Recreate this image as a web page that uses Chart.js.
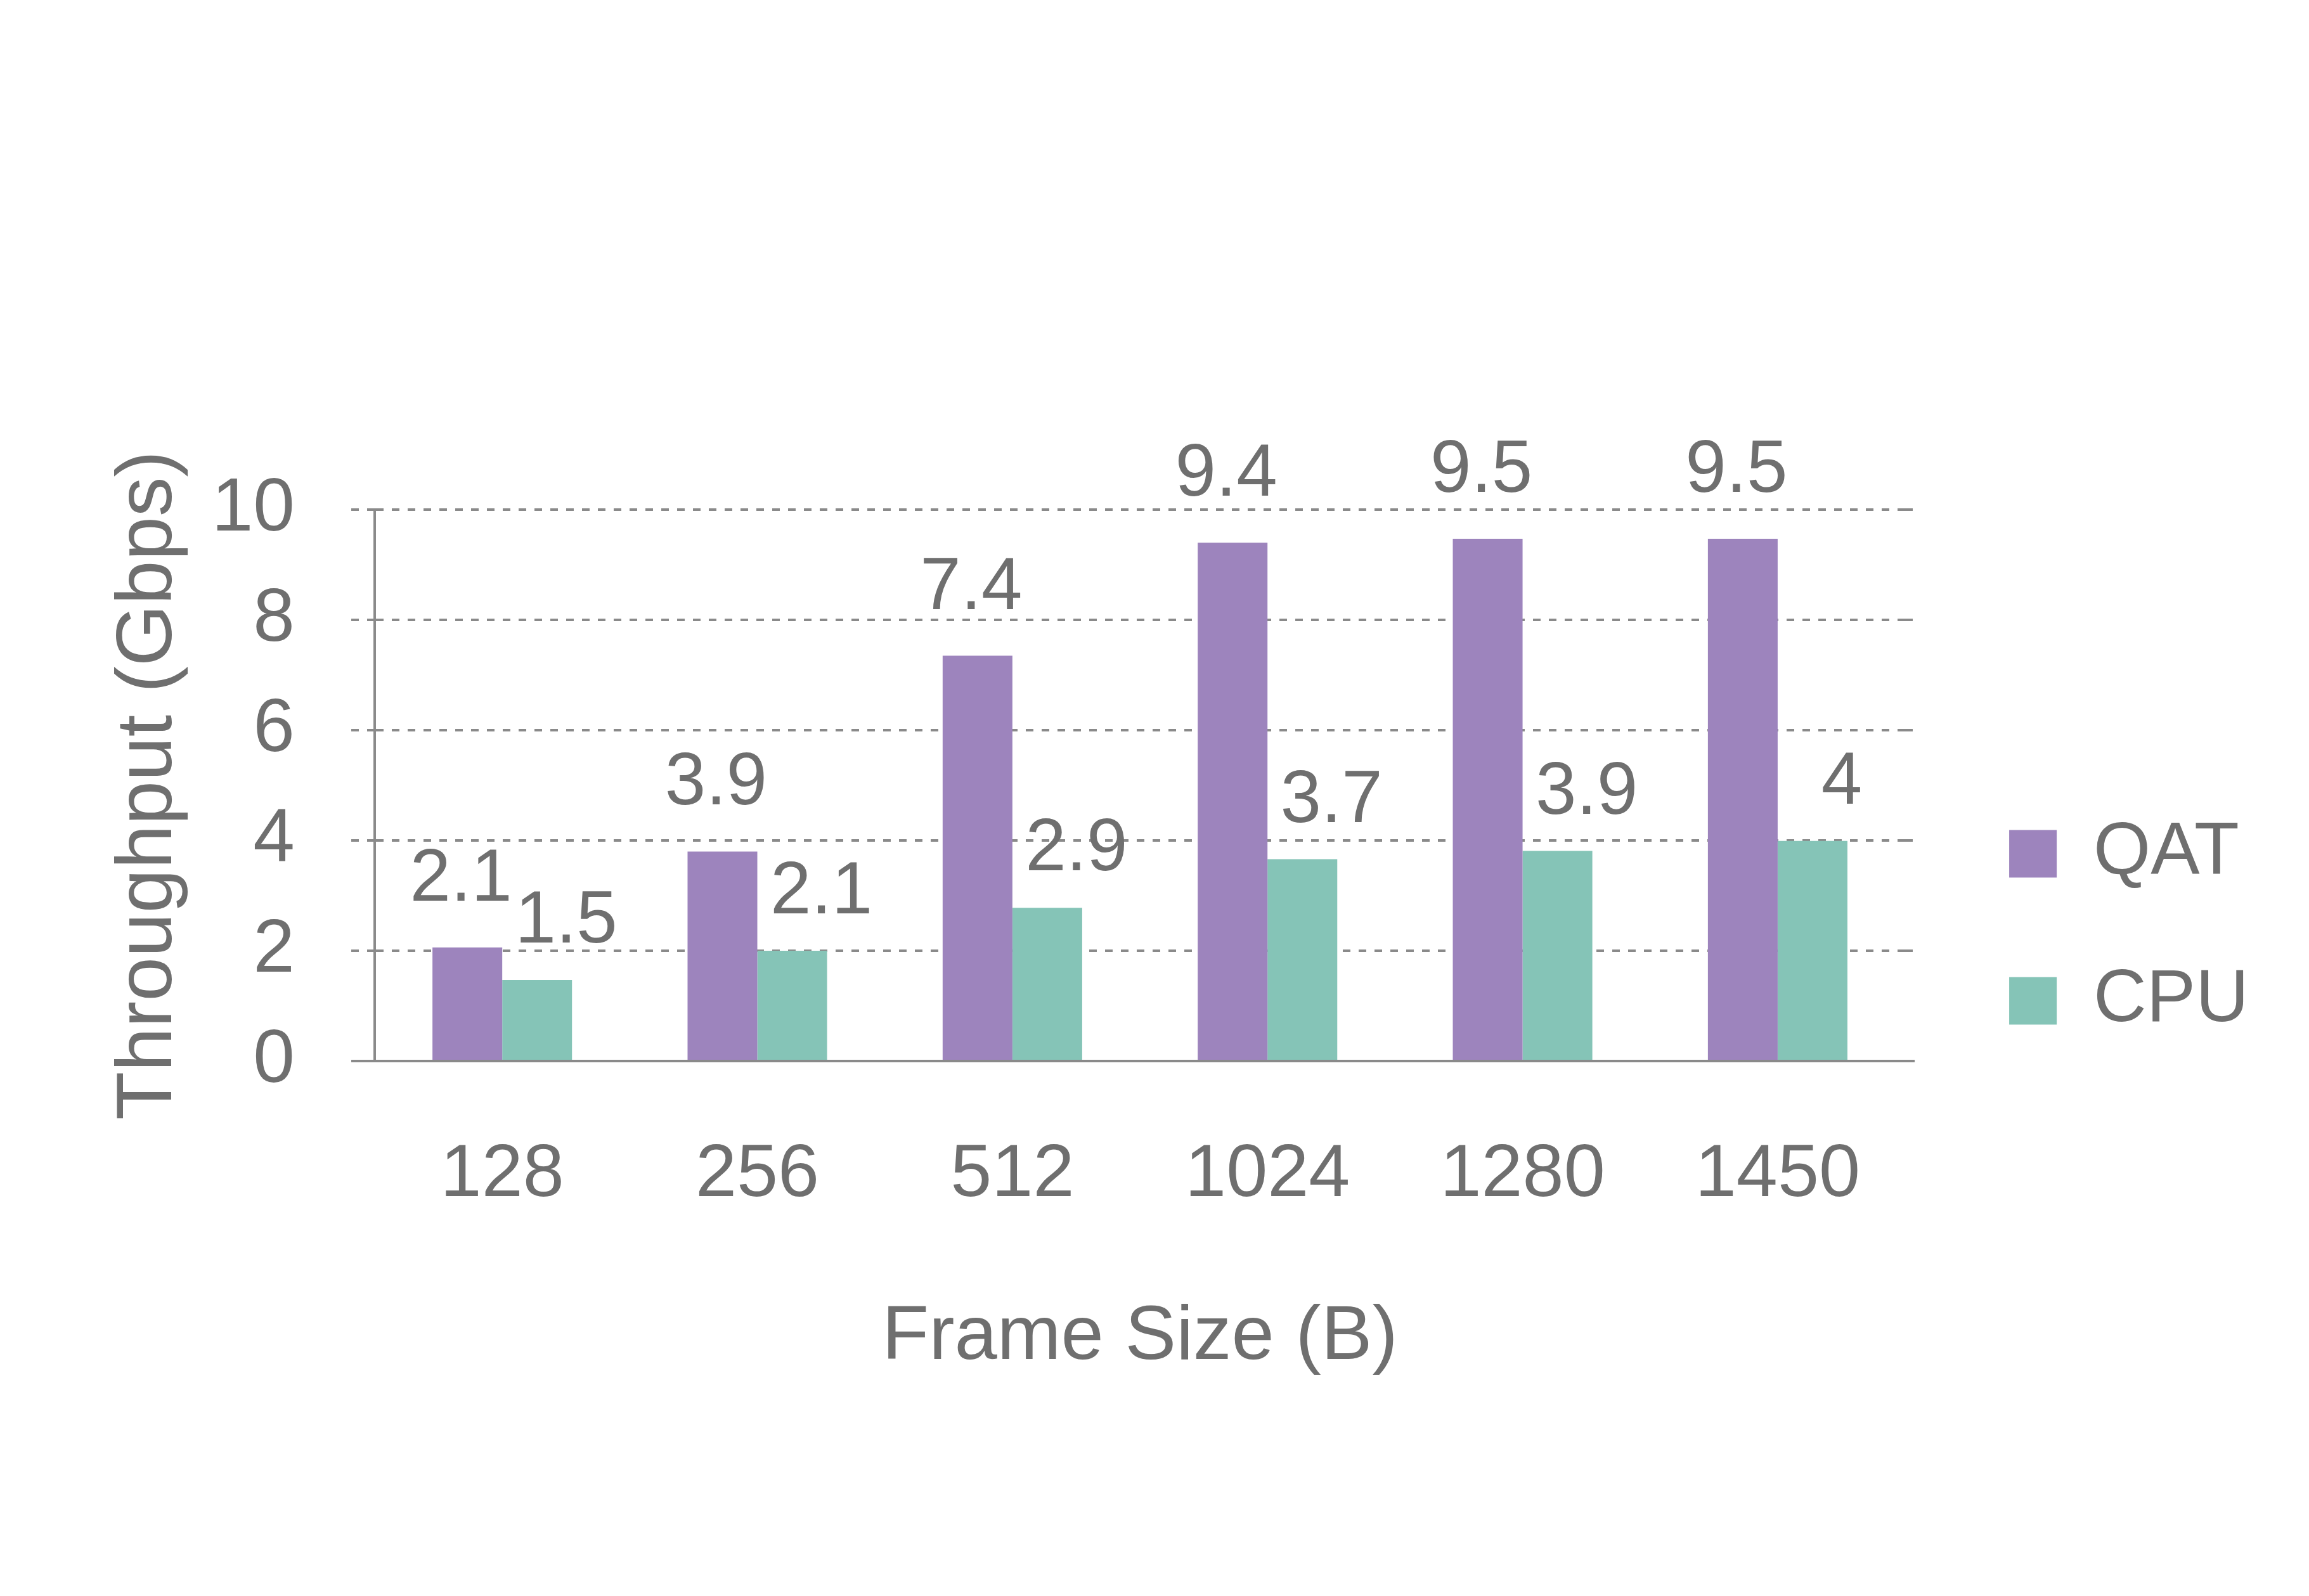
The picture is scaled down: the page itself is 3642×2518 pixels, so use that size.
<!DOCTYPE html>
<html>
<head>
<meta charset="utf-8">
<script src="https://cdn.jsdelivr.net/npm/chart.js@4/dist/chart.umd.min.js"></script>
<style>
  html, body { margin: 0; padding: 0; background: #ffffff; }
  #wrap { width: 3642px; height: 2518px; position: relative; }
</style>
</head>
<body>
<div id="wrap"><canvas id="c"></canvas></div>
<script>
// ---- data ----
const categories = ['128', '256', '512', '1024', '1280', '1450'];
const seriesNames = ['QAT', 'CPU'];
const qatValues = [2.06, 3.80, 7.35, 9.40, 9.47, 9.47];
const cpuValues = [1.47, 2.00, 2.78, 3.66, 3.81, 3.99];
const qatLabels = ['2.1', '3.9', '7.4', '9.4', '9.5', '9.5'];
const cpuLabels = ['1.5', '2.1', '2.9', '3.7', '3.9', '4'];
const yTicks = [0, 2, 4, 6, 8, 10];
const xTitle = 'Frame Size (B)';
const yTitle = 'Throughput (Gbps)';

// ---- styles ----
const FONT = "'Liberation Sans', Arial, Helvetica, sans-serif";
const TEXT = '#6f6f6f';
const GRID = '#8a8a8a';
const QAT_COLOR = '#9d84bd';
const CPU_COLOR = '#85c4b7';
const DASH = [12, 13];

const valueLabelPlugin = {
  id: 'valueLabels',
  afterDatasetsDraw(chart, args, opts) {
    const ctx = chart.ctx;
    ctx.save();
    ctx.fillStyle = TEXT;
    ctx.font = opts.size + 'px ' + FONT;
    ctx.textAlign = 'center';
    ctx.textBaseline = 'middle';
    chart.data.datasets.forEach((ds, di) => {
      const meta = chart.getDatasetMeta(di);
      const off = opts.offsets[di];
      meta.data.forEach((bar, i) => {
        ctx.fillText(ds.valueLabels[i], bar.x + off.dx, bar.y + off.dy);
      });
    });
    ctx.restore();
  }
};

const dashFor = (c) => (c.tick && c.tick.value === 0) ? [] : DASH;

new Chart(document.getElementById('c'), {
  type: 'bar',
  data: {
    labels: categories,
    datasets: [
      { label: seriesNames[0], data: qatValues, valueLabels: qatLabels,
        backgroundColor: QAT_COLOR, borderColor: QAT_COLOR, borderWidth: 0,
        categoryPercentage: 0.547, barPercentage: 1.0 },
      { label: seriesNames[1], data: cpuValues, valueLabels: cpuLabels,
        backgroundColor: CPU_COLOR, borderColor: CPU_COLOR, borderWidth: 0,
        categoryPercentage: 0.547, barPercentage: 1.0 }
    ]
  },
  options: {
    responsive: true,
    maintainAspectRatio: false,
    animation: false,
    devicePixelRatio: 1,
    layout: { padding: { top: 408, right: 85, bottom: 0, left: 0 } },
    scales: {
      x: {
        type: 'category',
        position: 'bottom',
        grid: { display: false },
        border: { display: true, color: GRID, width: 4 },
        ticks: { color: TEXT, font: { family: FONT, size: 117 }, padding: 103, maxRotation: 0, autoSkip: false },
        title: { display: true, text: xTitle, color: TEXT, font: { family: FONT, size: 121 },
                 padding: { top: 0, bottom: 335 } },
        afterFit(scale) { scale.height = 844; }
      },
      xTop: {
        type: 'category',
        position: 'top',
        display: true,
        grid: { display: false },
        border: { display: false },
        ticks: { display: false },
        afterFit(scale) { scale.height = 396; }
      },
      y: {
        type: 'linear',
        position: 'left',
        min: 0,
        max: 10,
        afterBuildTicks(scale) { scale.ticks = yTicks.map(v => ({ value: v })); },
        grid: {
          color: GRID, lineWidth: 4, tickLength: 37, drawTicks: true,
          tickColor: GRID, tickWidth: 4, tickBorderDash: dashFor
        },
        border: { display: true, color: GRID, width: 4, dash: DASH },
        ticks: { color: TEXT, font: { family: FONT, size: 118 }, padding: 89 },
        title: { display: true, text: yTitle, color: TEXT, font: { family: FONT, size: 125 },
                 padding: { top: 161, bottom: 0 } },
        afterFit(scale) { scale.width = 591; }
      },
      y2: {
        type: 'linear',
        position: 'right',
        min: 0,
        max: 10,
        afterBuildTicks(scale) { scale.ticks = yTicks.map(v => ({ value: v })); },
        grid: {
          drawOnChartArea: false, drawTicks: true, tickLength: 15,
          tickColor: GRID, tickWidth: 4, tickBorderDash: dashFor, color: GRID, lineWidth: 4
        },
        border: { display: false },
        ticks: { display: false },
        afterFit(scale) { scale.width = 48; }
      }
    },
    plugins: {
      legend: {
        display: true,
        position: 'right',
        align: 'center',
        fullSize: true,
        labels: {
          color: TEXT,
          font: { family: FONT, size: 116 },
          boxWidth: 75,
          boxHeight: 75,
          padding: 116
        }
      },
      title: { display: false },
      tooltip: { enabled: false },
      valueLabels: {
        size: 116,
        offsets: [ { dx: -10, dy: -106 }, { dx: 46, dy: -91 } ]
      }
    }
  },
  plugins: [valueLabelPlugin]
});
</script>
</body>
</html>
